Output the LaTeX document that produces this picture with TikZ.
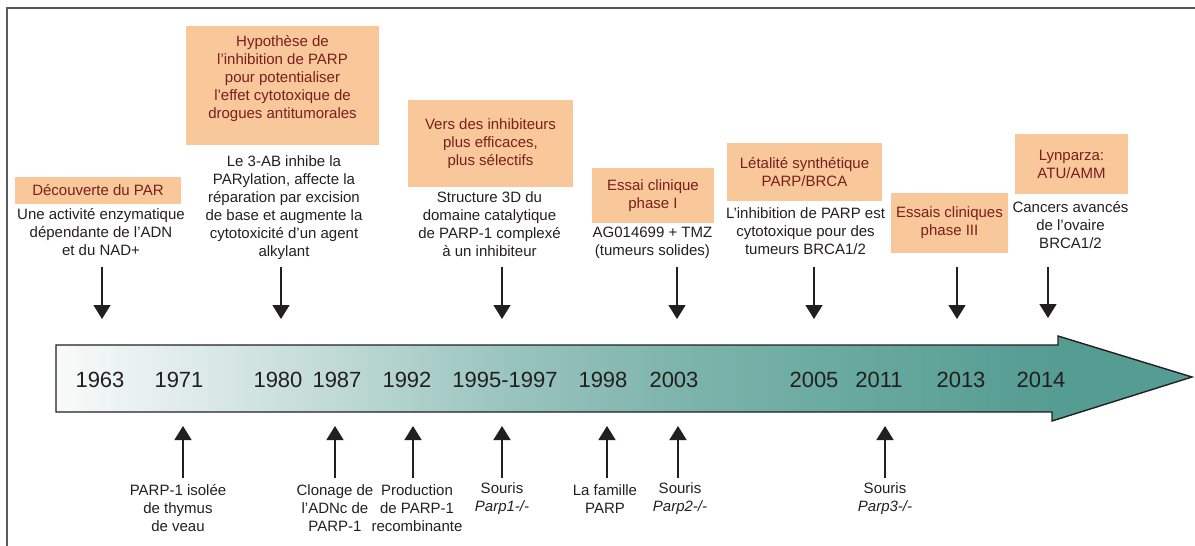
\documentclass[tikz,border=0pt]{standalone}
\usepackage{fontspec}
\setmainfont{Liberation Sans}
\usetikzlibrary{positioning,arrows.meta}
\definecolor{peach}{HTML}{F8C89B}
\definecolor{maroon}{HTML}{7A1E1E}
\definecolor{ink}{HTML}{231F20}
\definecolor{tlA}{HTML}{F8FBFA}
\definecolor{tlB}{HTML}{D9E8E6}
\definecolor{tlC}{HTML}{BCD8D3}
\definecolor{tlD}{HTML}{99C4BE}
\definecolor{tlE}{HTML}{7FB5AD}
\definecolor{tlF}{HTML}{68A99F}
\definecolor{tlG}{HTML}{559C92}
\pgfdeclarehorizontalshading{timeline}{100bp}{color(0bp)=(tlA); color(25bp)=(tlA);
  color(32bp)=(tlB); color(38bp)=(tlC); color(45bp)=(tlD); color(52bp)=(tlE);
  color(60bp)=(tlF); color(69bp)=(tlG); color(100bp)=(tlG)}
\tikzset{>={Triangle[width=17pt,length=14pt]},
  event/.style={fill=peach,text=maroon,align=center,inner sep=0pt,
    font=\fontsize{15}{18}\selectfont},
  note/.style={text=ink,align=center,inner sep=0pt,font=\fontsize{15}{18}\selectfont},
  year/.style={text=ink,inner sep=0pt,font=\fontsize{22}{26}\selectfont},
  pointer/.style={->,draw=ink,fill=ink,line width=1.6pt}}

\begin{document}
\begin{tikzpicture}[x=1pt,y=-1pt]
\useasboundingbox (0,0) rectangle (1195,546);

% Frame
\coordinate (F1) at (1195,8);
\coordinate (F2) at (7,8);
\coordinate (F3) at (7,546);
\draw[line width=1.8pt,draw=black!65] (F1) -- (F2) -- (F3);

% Timeline arrow
\shadedraw[shading=timeline,draw=ink,line width=1.4pt] (56,345) -- (1058,345)
  -- (1058,336) -- (1192,377) -- (1052,421) -- (1052,412) -- (56,412) -- cycle;

% Years
\node[year] (y1963) at (100,380) {1963};
\node[year] (y1971) at (179,380) {1971};
\node[year] (y1980) at (278,380) {1980};
\node[year] (y1987) at (337,380) {1987};
\node[year] (y1992) at (407,380) {1992};
\node[year] (y1995) at (505,380) {1995-1997};
\node[year] (y1998) at (603,380) {1998};
\node[year] (y2003) at (674,380) {2003};
\node[year] (y2005) at (814,380) {2005};
\node[year] (y2011) at (879,380) {2011};
\node[year] (y2013) at (961,380) {2013};
\node[year] (y2014) at (1041,380) {2014};

% Events above the timeline
\node[event,minimum width=166pt,minimum height=27pt] (par) at (98,190.5) {Découverte du PAR};
\node[note] (partxt) at (101,232) {Une activité enzymatique\\dépendante de l’ADN\\et du NAD+};

\node[event,minimum width=193pt,minimum height=119pt] (hyp) at (282.5,85.5) {};
\node[event,fill=none,yshift=6.5pt] (hyptxt) at (hyp) {Hypothèse de\\l’inhibition de PARP\\pour potentialiser\\l’effet cytotoxique de\\drogues antitumorales};
\node[note] (abtxt) at (284,208) {Le 3-AB inhibe la\\PARylation, affecte la\\réparation par excision\\de base et augmente la\\cytotoxicité d’un agent\\alkylant};

\node[event,minimum width=165pt,minimum height=87pt] (vers) at (490.5,143.5) {Vers des inhibiteurs\\plus efficaces,\\plus sélectifs};
\node[note] (verstxt) at (489.5,224) {Structure 3D du\\domaine catalytique\\de PARP-1 complexé\\à un inhibiteur};

\node[event,minimum width=122pt,minimum height=55pt] (ph1) at (653,195.5) {Essai clinique\\phase I};
\node[note] (ph1txt) at (652.5,243) {AG014699 + TMZ\\(tumeurs solides)};

\node[event,minimum width=155pt,minimum height=58pt] (brca) at (804.5,172) {Létalité synthétique\\PARP/BRCA};
\node[note] (brcatxt) at (805.5,231.5) {L’inhibition de PARP est\\cytotoxique pour des\\tumeurs BRCA1/2};

\node[event,minimum width=117pt,minimum height=60pt] (ph3) at (949.5,223) {Essais cliniques\\phase III};

\node[event,minimum width=113pt,minimum height=60pt] (lyn) at (1071.5,164) {Lynparza:\\ATU/AMM};
\node[note] (lyntxt) at (1070.5,225) {Cancers avancés\\de l’ovaire\\BRCA1/2};

% Arrows down to the timeline
\coordinate (a1) at (102,267);  \coordinate (b1) at (102,319);
\coordinate (a2) at (281,267);  \coordinate (b2) at (281,319);
\coordinate (a3) at (502,267);  \coordinate (b3) at (502,319);
\coordinate (a4) at (677,267);  \coordinate (b4) at (677,319);
\coordinate (a5) at (814,267);  \coordinate (b5) at (814,319);
\coordinate (a6) at (957,267);  \coordinate (b6) at (957,319);
\coordinate (a7) at (1048,267); \coordinate (b7) at (1048,318);
\draw[pointer] (a1) -- (b1);
\draw[pointer] (a2) -- (b2);
\draw[pointer] (a3) -- (b3);
\draw[pointer] (a4) -- (b4);
\draw[pointer] (a5) -- (b5);
\draw[pointer] (a6) -- (b6);
\draw[pointer] (a7) -- (b7);

% Events below the timeline
\node[note] (thy) at (178,508) {PARP-1 isolée\\de thymus\\de veau};
\node[note] (clo) at (335,508) {Clonage de\\l’ADNc de\\PARP-1};
\node[note] (pro) at (417,508) {Production\\de PARP-1\\recombinante};
\node[note] (ko1) at (502,499) {Souris\\\textit{Parp1-/-}};
\node[note] (fam) at (605,499) {La famille\\PARP};
\node[note] (ko2) at (680,499) {Souris\\\textit{Parp2-/-}};
\node[note] (ko3) at (885,499) {Souris\\\textit{Parp3-/-}};

% Arrows up to the timeline
\coordinate (c1) at (183,478); \coordinate (d1) at (183,426);
\coordinate (c2) at (335,478); \coordinate (d2) at (335,426);
\coordinate (c3) at (413,478); \coordinate (d3) at (413,426);
\coordinate (c4) at (502,478); \coordinate (d4) at (502,426);
\coordinate (c5) at (607,478); \coordinate (d5) at (607,426);
\coordinate (c6) at (678,478); \coordinate (d6) at (678,426);
\coordinate (c7) at (885,478); \coordinate (d7) at (885,426);
\draw[pointer] (c1) -- (d1);
\draw[pointer] (c2) -- (d2);
\draw[pointer] (c3) -- (d3);
\draw[pointer] (c4) -- (d4);
\draw[pointer] (c5) -- (d5);
\draw[pointer] (c6) -- (d6);
\draw[pointer] (c7) -- (d7);

\end{tikzpicture}
\end{document}
